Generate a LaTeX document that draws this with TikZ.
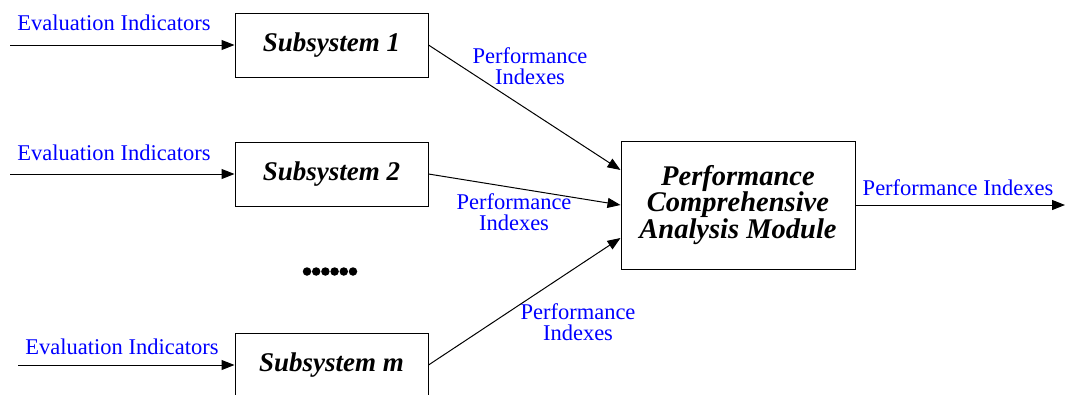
\documentclass[tikz,border=0pt]{standalone}
\usepackage{fontspec}
\setmainfont{Liberation Serif}
\usetikzlibrary{arrows.meta}
\definecolor{lblue}{RGB}{0,0,255}
\begin{document}
\begin{tikzpicture}[x=1pt,y=-1pt,
  sbox/.style={draw,line width=1pt,minimum width=193pt,minimum height=64pt,inner sep=0pt,font=\fontsize{27}{30}\selectfont\bfseries\itshape},
  lbl/.style={text=lblue,font=\fontsize{22.5}{20.5}\selectfont,inner sep=0pt,align=center},
  arr/.style={line width=1pt,-{Triangle[length=13pt,width=10pt]}},
  dot/.style={fill,circle,inner sep=0pt,minimum size=8.5pt}]
\useasboundingbox (0,0) rectangle (1065,394);
\node[sbox] (s1) at (331.5,45) {Subsystem 1};
\node[sbox] (s2) at (331.5,174) {Subsystem 2};
\node[sbox] (sm) at (331.5,365) {Subsystem m};
\node[draw,line width=1pt,minimum width=234pt,minimum height=128pt,inner sep=0pt,align=center,
  font=\fontsize{28.5}{24.5}\selectfont\bfseries\itshape] (pm) at (738,205) {Performance\\Comprehensive\\Analysis Module};
\coordinate (i1) at (10,45);
\coordinate (i2) at (10,174);
\coordinate (im) at (18,365);
\coordinate (out) at (1065,205);
\draw[arr] (i1) -- (s1.west);
\draw[arr] (i2) -- (s2.west);
\draw[arr] (im) -- (sm.west);
\node[lbl] (e1) at (114,23) {Evaluation Indicators};
\node[lbl] (e2) at (114,153) {Evaluation Indicators};
\node[lbl] (em) at (122,347) {Evaluation Indicators};
\draw[arr] (s1.east) -- (pm.west |- 0,170);
\draw[arr] (s2.east) -- (pm.west);
\draw[arr] (sm.east) -- (pm.west |- 0,238);
\draw[arr] (pm.east) -- (out);
\node[lbl] (p1) at (530,66) {Performance\\Indexes};
\node[lbl] (p2) at (514,212) {Performance\\Indexes};
\node[lbl] (pmx) at (578,322) {Performance\\Indexes};
\node[lbl] (po) at (958,188) {Performance Indexes};
\foreach \i in {0,...,5} \node[dot] (d\i) at (307+9.2*\i,271.5) {};
\end{tikzpicture}
\end{document}
